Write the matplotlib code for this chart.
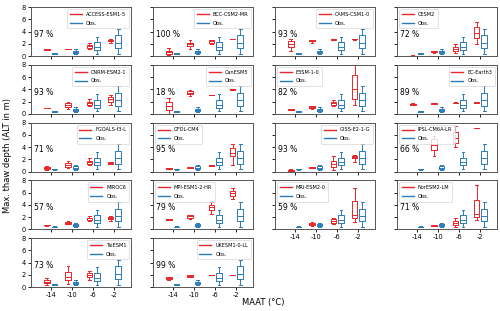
import matplotlib
matplotlib.use("Agg")
import matplotlib.pyplot as plt
from matplotlib.lines import Line2D

RED = "#e8262a"
BLUE = "#2b7bba"

maat_labels = ["-14", "-10", "-6", "-2"]

# observed boxes, same in every panel: (whislo, q1, med, q3, whishi) per MAAT bin
obs = [
    (0.3, 0.35, 0.4, 0.45, 0.5),
    (0.3, 0.5, 0.65, 0.85, 1.1),
    (0.4, 1.0, 1.5, 2.3, 3.2),
    (0.4, 1.3, 2.2, 3.4, 4.5),
]

models = [
    "ACCESS-ESM1-5", "BCC-CSM2-MR", "CAMS-CSM1-0", "CESM2",
    "CNRM-ESM2-1", "CanESM5", "E3SM-1-0", "EC-Earth3",
    "FGOALS-f3-L", "GFDL-CM4", "GISS-E2-1-G", "IPSL-CM6A-LR",
    "MIROC6", "MPI-ESM1-2-HR", "MRI-ESM2-0", "NorESM2-LM",
    "TaiESM1", "UKESM1-0-LL",
]
percent = [97, 100, 93, 72, 93, 18, 82, 89, 71, 95, 93, 66, 57, 79, 59, 71, 73, 99]
legend_loc = [
    "upper right", "upper right", "upper right", "upper left",
    "upper right", "upper right", "upper left", "upper right",
    "upper right", "upper left", "upper right", "upper left",
    "upper right", "upper left", "upper left", "upper left",
    "upper right", "upper right",
]

# model boxes: (whislo, q1, med, q3, whishi) per MAAT bin
access = [(1.0, 1.0, 1.05, 1.1, 1.1), (1.1, 1.1, 1.15, 1.2, 1.2),
          (1.2, 1.4, 1.6, 1.8, 2.1), (2.2, 2.4, 2.5, 2.6, 2.8)]
bcc = [(0.1, 0.4, 0.7, 0.9, 1.4), (1.2, 1.7, 2.0, 2.2, 2.7),
       (1.9, 2.2, 2.4, 2.6, 2.7), (2.8, 2.8, 2.8, 2.85, 2.85)]
cams = [(0.9, 1.5, 2.0, 2.4, 2.8), (2.2, 2.4, 2.5, 2.6, 2.7),
        (2.7, 2.7, 2.75, 2.8, 2.8), (2.7, 2.75, 2.8, 2.8, 2.85)]
cesm2 = [(0.0, 0.02, 0.05, 0.08, 0.1), (0.5, 0.6, 0.7, 0.8, 0.9),
         (0.5, 0.9, 1.2, 1.5, 1.9), (2.0, 3.0, 3.7, 4.7, 5.5)]
cnrm = [(0.95, 0.95, 1.0, 1.0, 1.0), (0.8, 1.1, 1.4, 1.7, 2.0),
        (1.2, 1.5, 1.7, 2.0, 2.4), (1.4, 2.0, 2.4, 2.8, 3.1)]
canesm = [(0.0, 0.6, 1.2, 1.9, 2.6), (2.9, 3.2, 3.4, 3.7, 3.9),
          (3.0, 3.0, 3.05, 3.05, 3.05), (3.95, 3.95, 4.0, 4.0, 4.0)]
e3sm = [(0.6, 0.65, 0.7, 0.75, 0.8), (0.8, 0.9, 1.05, 1.2, 1.3),
        (1.2, 1.5, 1.8, 2.0, 2.2), (1.5, 2.5, 4.0, 6.4, 8.0)]
ecearth = [(1.4, 1.5, 1.55, 1.65, 1.7), (1.55, 1.65, 1.7, 1.8, 1.85),
           (1.7, 1.75, 1.8, 1.85, 1.9), (1.75, 1.8, 1.85, 1.9, 1.95)]
fgoals = [(0.3, 0.45, 0.6, 0.75, 0.9), (0.6, 0.8, 1.1, 1.4, 1.8),
          (1.0, 1.3, 1.5, 1.8, 2.2), (1.2, 1.3, 1.4, 1.5, 1.6)]
gfdl = [(0.45, 0.47, 0.5, 0.53, 0.55), (0.6, 0.62, 0.65, 0.7, 0.72),
        (0.85, 0.9, 1.0, 1.05, 1.1), (1.1, 2.5, 3.0, 3.8, 4.5)]
giss = [(0.05, 0.1, 0.2, 0.3, 0.4), (0.55, 0.6, 0.65, 0.75, 0.8),
        (0.3, 0.8, 1.3, 1.7, 2.5), (1.5, 2.2, 2.4, 2.6, 2.7)]
ipsl = [(0.0, 0.0, 0.0, 0.0, 0.0), (2.6, 3.5, 4.3, 5.3, 5.8),
        (4.0, 4.7, 5.5, 6.5, 7.5), (7.15, 7.15, 7.15, 7.15, 7.15)]
miroc = [(0.6, 0.65, 0.7, 0.72, 0.75), (0.8, 0.95, 1.1, 1.25, 1.4),
         (1.4, 1.6, 1.8, 1.9, 2.2), (1.4, 1.7, 1.85, 1.95, 2.1)]
mpi = [(1.6, 1.6, 1.65, 1.65, 1.7), (1.7, 1.9, 2.1, 2.3, 2.4),
       (2.5, 3.2, 3.6, 4.0, 4.5), (5.0, 5.5, 5.9, 6.3, 6.7)]
mri = [(0.0, 0.0, 0.0, 0.0, 0.02), (0.5, 0.7, 0.85, 1.0, 1.2),
       (0.8, 1.1, 1.4, 1.7, 1.9), (1.2, 1.8, 2.4, 4.6, 6.8)]
noresm = [(0.0, 0.0, 0.0, 0.0, 0.02), (0.5, 0.55, 0.6, 0.7, 0.75),
          (0.4, 0.7, 1.0, 1.3, 1.8), (1.6, 2.0, 2.5, 4.8, 7.2)]
taiesm = [(0.3, 0.6, 0.8, 1.1, 1.5), (0.5, 1.2, 1.7, 2.5, 3.4),
          (1.2, 1.7, 2.0, 2.3, 2.6), (0.0, 0.0, 0.0, 0.0, 0.0)]
ukesm = [(1.1, 1.3, 1.45, 1.6, 1.7), (1.6, 1.7, 1.8, 1.9, 1.95),
         (1.95, 1.95, 2.0, 2.0, 2.0), (1.95, 1.95, 2.0, 2.0, 2.0)]

model_boxes = [access, bcc, cams, cesm2, cnrm, canesm, e3sm, ecearth,
               fgoals, gfdl, giss, ipsl, miroc, mpi, mri, noresm, taiesm, ukesm]


def to_stats(rows):
    return [dict(whislo=r[0], q1=r[1], med=r[2], q3=r[3], whishi=r[4], fliers=[])
            for r in rows]


def draw_boxes(ax, rows, positions, color):
    ax.bxp(to_stats(rows), positions=positions, widths=0.26, showfliers=False,
           boxprops=dict(color=color, lw=0.7),
           medianprops=dict(color=color, lw=0.7),
           whiskerprops=dict(color=color, lw=0.7),
           capprops=dict(color=color, lw=0.7),
           manage_ticks=False)


fig, axes = plt.subplots(5, 4, figsize=(5, 3.11), dpi=100)
fig.subplots_adjust(left=0.062, right=0.994, top=0.977, bottom=0.077,
                    wspace=0.22, hspace=0.18)
axes[4, 2].remove()
axes[4, 3].remove()

xs = [1, 2, 3, 4]
for i, name in enumerate(models):
    r, c = divmod(i, 4)
    ax = axes[r, c]
    draw_boxes(ax, model_boxes[i], [x - 0.18 for x in xs], RED)
    draw_boxes(ax, obs, [x + 0.18 for x in xs], BLUE)
    ax.set_xlim(0.08, 4.78)
    ax.set_ylim(0, 8)
    ax.set_yticks([0, 2, 4, 6, 8])
    ax.set_xticks(xs)
    ax.tick_params(labelsize=4.8, length=2, width=0.6, pad=1.5)
    if c != 0:
        ax.set_yticklabels([])
    bottom = r == 4 or (r == 3 and c >= 2)
    if bottom:
        ax.set_xticklabels(maat_labels)
    else:
        ax.set_xticklabels([])
    for s in ax.spines.values():
        s.set_color("#555555")
        s.set_linewidth(0.7)
    ax.text(0.03, 0.39, f"{percent[i]} %", transform=ax.transAxes, fontsize=5.5)
    handles = [Line2D([], [], color=RED, lw=1.0), Line2D([], [], color=BLUE, lw=1.0)]
    leg = ax.legend(handles, [name, "Obs."], loc=legend_loc[i], fontsize=3.6,
                    handlelength=2.4, handletextpad=0.8, borderpad=0.55,
                    labelspacing=0.75, framealpha=0.8, borderaxespad=0.4)
    leg.get_frame().set_linewidth(0.5)

fig.text(0.016, 0.5, "Max. thaw depth (ALT in m)", rotation=90,
         va="center", ha="center", fontsize=6)
fig.text(0.526, 0.028, "MAAT (°C)", ha="center", va="center", fontsize=6)

fig.savefig("out.png", dpi=100)
